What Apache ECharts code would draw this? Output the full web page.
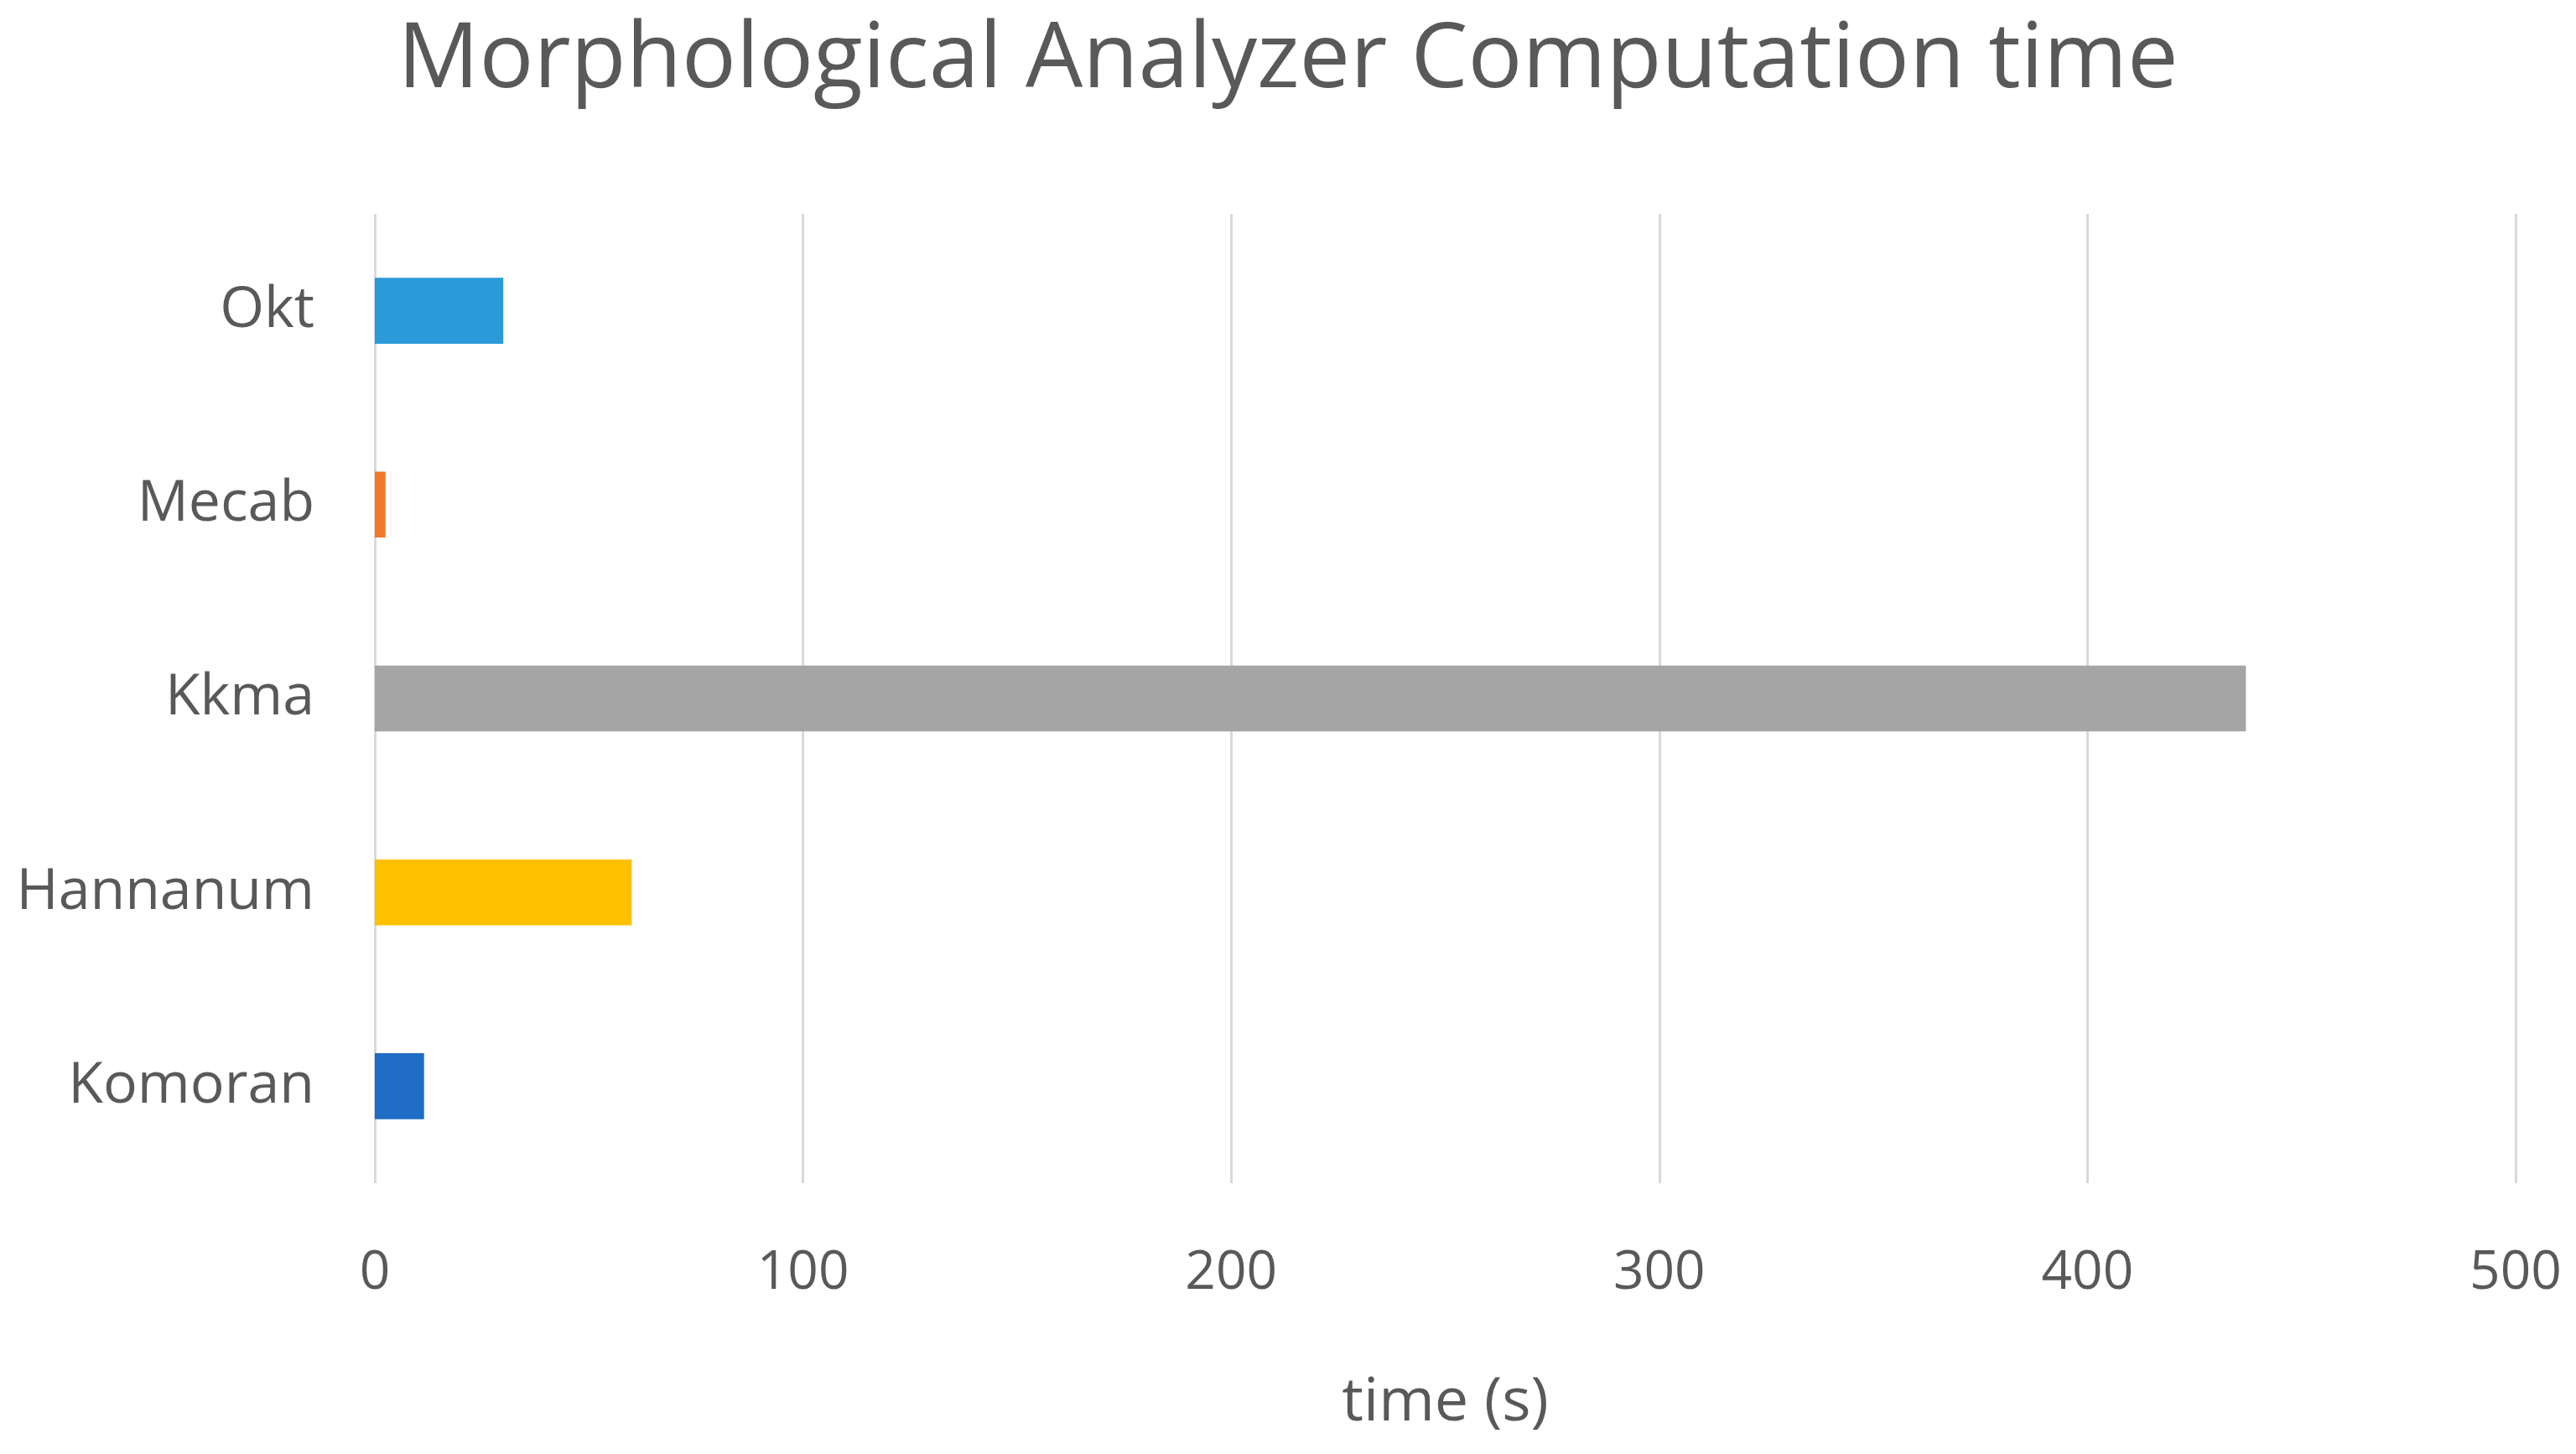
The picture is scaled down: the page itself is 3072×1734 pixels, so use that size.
<!DOCTYPE html>
<html><head><meta charset="utf-8">
<script src="https://cdn.jsdelivr.net/npm/echarts@6/dist/echarts.min.js"></script>
<style>html,body{margin:0;padding:0;background:#fff}#c{width:3072px;height:1734px}</style>
</head><body><div id="c"></div>
<script>
const categories = ["Komoran", "Hannanum", "Kkma", "Mecab", "Okt"];
const times = [11.5, 60, 437, 2.5, 30];
const xTicks = [0, 100, 200, 300, 400, 500];
const colors = ["#1f6cc4", "#ffc000", "#a5a5a5", "#f07a2a", "#2a9ad8"];
const chart = echarts.init(document.getElementById('c'));
chart.setOption({
  backgroundColor: '#fff',
  title: {text: 'Morphological Analyzer Computation time', left: 'center', top: 14,
    textStyle: {fontFamily: 'Open Sans', fontWeight: 'normal', fontSize: 108, color: '#595959'}},
  grid: {left: 447, right: 72, top: 255, bottom: 323},
  xAxis: {type: 'value', min: xTicks[0], max: xTicks[xTicks.length-1], interval: 100,
    name: 'time (s)', nameLocation: 'middle', nameGap: 226,
    nameTextStyle: {fontFamily: 'Open Sans', fontSize: 72, color: '#595959'},
    axisLine: {show: false}, axisTick: {show: false},
    axisLabel: {fontFamily: 'Open Sans', fontSize: 64, color: '#595959', margin: 76},
    splitLine: {lineStyle: {color: '#d9d9d9', width: 3}}},
  yAxis: {type: 'category', data: categories,
    axisLine: {show: false}, axisTick: {show: false},
    axisLabel: {fontFamily: 'Open Sans', fontSize: 68, color: '#595959', margin: 72}},
  series: [{type: 'bar', barWidth: '34%',
    data: times.map((v, i) => ({value: v, itemStyle: {color: colors[i]}}))}]
});
</script></body></html>
